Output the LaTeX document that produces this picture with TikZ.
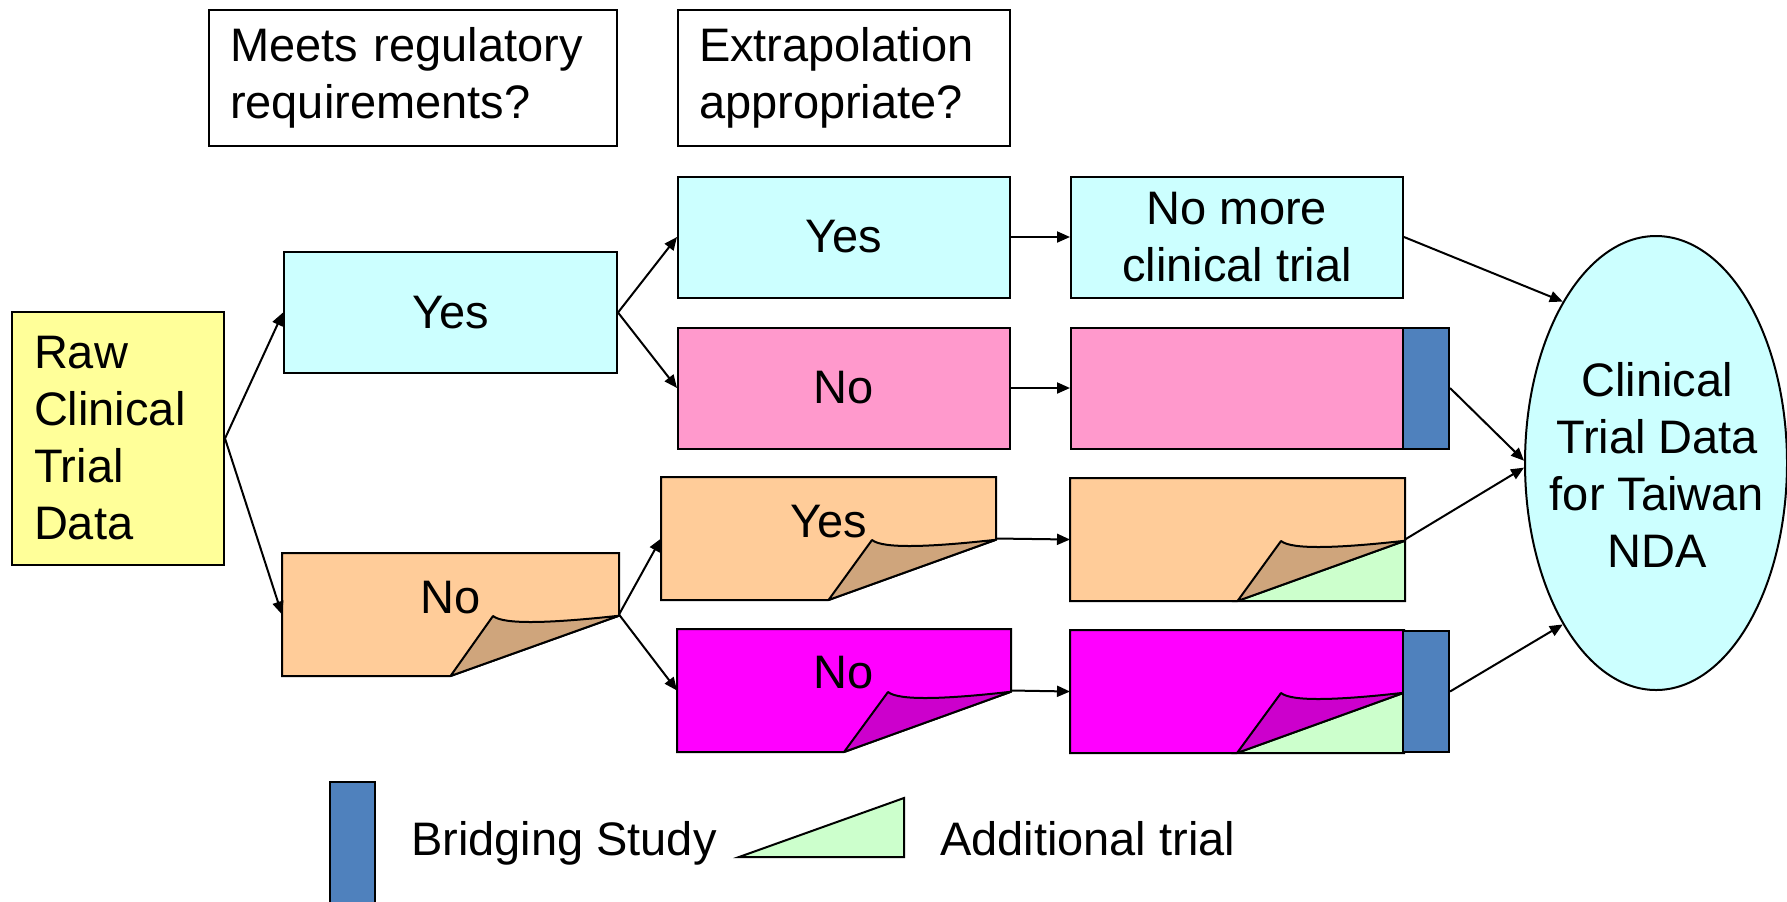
\documentclass[tikz,border=0pt]{standalone}
\usepackage{fontspec}
\setmainfont{Liberation Sans}
\usetikzlibrary{shapes.geometric,arrows.meta,calc}
\definecolor{cyanbox}{HTML}{CCFFFF}
\definecolor{pinkbox}{HTML}{FF99CC}
\definecolor{orangebox}{HTML}{FFCC99}
\definecolor{orangeflap}{HTML}{CFA57C}
\definecolor{magbox}{HTML}{FF00FF}
\definecolor{magflap}{HTML}{CC00CC}
\definecolor{yellowbox}{HTML}{FFFF99}
\definecolor{bridgeblue}{HTML}{4F81BD}
\definecolor{addgreen}{HTML}{CCFFCC}
\newcommand\foldbody[2]{%
  \coordinate (#1-b) at ($(#1.south west)!0.5!(#1.south east)$);
  \coordinate (#1-r) at ($(#1.north east)!0.51!(#1.south east)$);
  \filldraw[fill=#2, line join=miter] (#1.north west) -- (#1.north east) -- (#1-r) -- (#1-b) -- (#1.south west) -- cycle;}
\newcommand\foldflap[2]{%
  \filldraw[fill=#2, line join=round] (#1-b) -- ($(#1.north west)+(211,63)$)
    .. controls ($(#1.north west)+(222,72)$) and ($(#1.north west)+(270,70)$) .. (#1-r) -- cycle;}
\newcommand\foldcorner[1]{%
  \filldraw[fill=addgreen] (#1-b) -- (#1-r) -- (#1.south east) -- cycle;}
\begin{document}
\begin{tikzpicture}[x=0.5pt, y=-0.5pt,
  font=\fontsize{23.5}{28.5}\selectfont, line width=1pt,
  box/.style={draw, inner sep=0pt, minimum width=166pt, minimum height=60.5pt},
  ghost/.style={inner sep=0pt, minimum width=166pt, minimum height=60.5pt},
  head/.style={draw, fill=white, align=left, inner xsep=10.5pt, inner ysep=0pt, minimum height=68pt},
  lbl/.style={inner sep=0pt},
  bar/.style={draw, fill=bridgeblue, inner sep=0pt, minimum width=23pt, minimum height=60.5pt},
  arr/.style={-{Triangle[length=6.5pt,width=5.5pt]}, line width=1pt}]
\fill[white] (0,0) rectangle (1787,901);
\useasboundingbox (0,0) rectangle (1787,901);

% header boxes
\node[head, text width=183pt] (head1) at (413,78) {Meets regulatory\\requirements?};
\node[head, text width=145pt] (head2) at (844,78) {Extrapolation\\appropriate?};

% raw data
\node[draw, fill=yellowbox, align=left, inner xsep=11pt, inner ysep=0pt, text width=84pt, minimum height=126.5pt] (raw) at (118,438.5) {Raw\\Clinical\\Trial\\Data};

% first column
\node[box, fill=cyanbox, minimum width=166.5pt] (yes1) at (450.5,312.5) {Yes};
\node[ghost, minimum width=167.5pt] (no1) at (450.5,614.5) {};
\foldbody{no1}{orangebox}
\foldflap{no1}{orangeflap}
\node[lbl] (no1t) at ($(no1)+(0,-17)$) {No};

% second column
\node[box, fill=cyanbox] (yes2) at (844,237) {Yes};
\node[box, fill=pinkbox] (no2) at (844,388) {No};
\node[ghost, minimum width=166.5pt] (yes3) at (828.5,538.5) {};
\foldbody{yes3}{orangebox}
\foldflap{yes3}{orangeflap}
\node[lbl] (yes3t) at ($(yes3)+(0,-17)$) {Yes};
\node[ghost] (no3) at (844,690.5) {};
\foldbody{no3}{magbox}
\foldflap{no3}{magflap}
\node[lbl] (no3t) at ($(no3)+(0,-18)$) {No};

% third column
\node[box, fill=cyanbox, align=center] (nomore) at (1237,237) {No more\\clinical trial};
\node[box, fill=pinkbox] (pink2) at (1237,388) {};
\node[bar] (bar2) at (1426,388) {};
\node[ghost, minimum width=166.5pt] (orange2) at (1237.5,539.5) {};
\foldbody{orange2}{orangebox}
\foldcorner{orange2}
\foldflap{orange2}{orangeflap}
\node[ghost] (mag2) at (1237,691.5) {};
\foldbody{mag2}{magbox}
\foldcorner{mag2}
\foldflap{mag2}{magflap}
\node[bar] (bar4) at (1426,691.5) {};

% target ellipse
\node[draw, ellipse, fill=cyanbox, inner sep=0pt, minimum width=131pt, minimum height=227pt] (ell) at (1656,463) {};
\node[lbl, align=center] (ellt) at (1657,465) {Clinical\\Trial Data\\for Taiwan\\NDA};

% connectors
\draw[arr] (raw.east) -- (yes1.west);
\draw[arr] (raw.east) -- (no1.west);
\draw[arr] (yes1.east) -- (yes2.west);
\draw[arr] (yes1.east) -- (no2.west);
\draw[arr] (no1.east) -- (yes3.west);
\draw[arr] (no1.east) -- (no3.west);
\draw[arr] (yes2.east) -- (nomore.west);
\draw[arr] (no2.east) -- (pink2.west);
\draw[arr] (yes3.east) -- (orange2.west);
\draw[arr] (no3.east) -- (mag2.west);
\draw[arr] (nomore.east) -- (ell.120);
\draw[arr] (bar2.east) -- (ell.179);
\draw[arr] (orange2.east) -- (ell.182);
\draw[arr] (bar4.east) -- (ell.240);

% legend
\node[bar, minimum width=22.5pt, minimum height=66pt] (legbar) at (352.5,848) {};
\node[lbl, anchor=base west] (legbs) at (410,855) {Bridging Study};
\filldraw[fill=addgreen] (739,857) -- (904,798) -- (904,857) -- cycle;
\node[lbl, anchor=base west] (legat) at (939,855) {Additional trial};
\end{tikzpicture}
\end{document}
